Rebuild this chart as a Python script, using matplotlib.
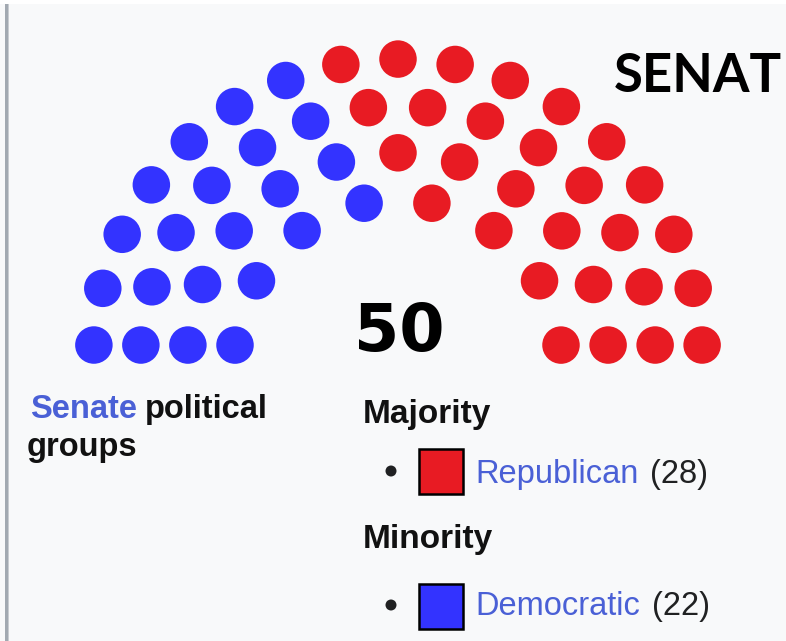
import math
import matplotlib
matplotlib.use("Agg")
import matplotlib.pyplot as plt
from matplotlib.patches import Circle, Rectangle

# ---------------- data ----------------
parties = ["Democratic", "Republican"]          # order in the hemicycle (left -> right)
seats = [22, 28]
party_colors = ["#3333ff", "#e81b23"]
legend_groups = ["Majority", "Minority"]
legend_parties = ["Republican", "Democratic"]
legend_seats = [28, 22]
legend_colors = ["#e81b23", "#3333ff"]
title_text = "SENAT"
caption_link = "Senate"
caption_rest = "political"
caption_line2 = "groups"

W, H, DPI = 786, 641, 100
BG = "#f8f9fa"
LINK = "#4a60d6"
TXT = "#202122"

# ---------------- hemicycle layout (parliament-diagram algorithm) ----------------
TOTALS = [3, 15, 33, 61, 95, 138, 189, 247, 313, 388, 469, 559, 657, 762, 876, 997]


def seat_positions(total):
    rows = next(i + 1 for i, t in enumerate(TOTALS) if t >= total)
    rad = 0.4 / rows
    pos = []
    for i in range(1, rows):
        J = int(float(total) / TOTALS[rows - 1] * math.pi /
                (2 * math.asin(2.0 / (3.0 * rows + 4.0 * i - 2.0))))
        R = (3.0 * rows + 4.0 * i - 2.0) / (4.0 * rows)
        if J == 1:
            pos.append((math.pi / 2, 0.0, R))
        else:
            for j in range(J):
                a = j * (math.pi - 2.0 * math.sin(rad / R)) / (J - 1.0) + math.sin(rad / R)
                pos.append((a, R * math.cos(a), R * math.sin(a)))
    J = total - len(pos)
    R = (7.0 * rows - 2.0) / (4.0 * rows)
    if J == 1:
        pos.append((math.pi / 2, 0.0, R))
    else:
        for j in range(J):
            a = j * (math.pi - 2.0 * math.sin(rad / R)) / (J - 1.0) + math.sin(rad / R)
            pos.append((a, R * math.cos(a), R * math.sin(a)))
    pos.sort(reverse=True)
    return pos, rad


fig = plt.figure(figsize=(W / DPI, H / DPI), dpi=DPI)
fig.patch.set_facecolor(BG)


def fx(x):
    return x / W


def fy(y):
    return 1 - y / H


# top white strip and left grey border
fig.patches.append(Rectangle((0, fy(4)), 1, 4 / H, transform=fig.transFigure,
                             facecolor="white", edgecolor="none", zorder=0))
fig.patches.append(Rectangle((fx(5), 0), 3 / W, fy(4), transform=fig.transFigure,
                             facecolor="#a2a9b1", edgecolor="none", zorder=0))
fig.patches.append(Rectangle((fx(8), 0), 1.2 / W, fy(4), transform=fig.transFigure,
                             facecolor="#c8ccd1", edgecolor="none", zorder=0))

# axes in diagram units
scale = 187.5           # px per unit
cx, cy = 398.0, 363.75  # pixel position of hemicycle centre
ax = fig.add_axes([0, 0, 1, 1])
ax.set_xlim(-cx / scale, (W - cx) / scale)
ax.set_ylim(-(H - cy) / scale, cy / scale)
ax.axis("off")
ax.patch.set_alpha(0)


def ux(px):
    return (px - cx) / scale


def uy(py):
    return (cy - py) / scale


positions, rad = seat_positions(sum(seats))
k = 0
for count, col in zip(seats, party_colors):
    for _ in range(count):
        _, x, y = positions[k]
        ax.add_patch(Circle((x, y), rad, facecolor=col, edgecolor="none"))
        k += 1

# ---------------- texts ----------------
fig.text(fx(698), fy(77), title_text, fontsize=38, fontweight="bold",
         family="Lato", ha="center", va="center", color="black")
fig.text(fx(399), fy(333), str(sum(seats)), fontsize=47, fontweight="bold",
         family="DejaVu Sans", ha="center", va="center", color="black")

SANS = "Liberation Sans"
FS = 23.5
fig.canvas.draw()
r = fig.canvas.get_renderer()

t1 = fig.text(fx(30), fy(418), caption_link, fontsize=FS, fontweight="bold",
              family=SANS, ha="left", va="baseline", color=LINK)
e = t1.get_window_extent(r)
fig.text((e.x1 + 8) / W, fy(418), caption_rest, fontsize=FS, fontweight="bold",
         family=SANS, ha="left", va="baseline", color="#111111")
fig.text(fx(27), fy(456), caption_line2, fontsize=FS, fontweight="bold",
         family=SANS, ha="left", va="baseline", color="#111111")

group_y = [423, 548]
item_y = [483, 615]
square_top = [449, 584]
bullet_y = [471, 605]
for g, gy, iy, st, by, name, n, col in zip(legend_groups, group_y, item_y, square_top,
                                           bullet_y, legend_parties, legend_seats,
                                           legend_colors):
    fig.text(fx(363), fy(gy), g, fontsize=FS + 0.5, fontweight="bold",
             family=SANS, ha="left", va="baseline", color="#111111")
    ax.add_patch(Circle((ux(391), uy(by)), 5.5 / scale, facecolor=TXT, edgecolor="none"))
    fig.patches.append(Rectangle((fx(418.5), fy(st + 45)), 44 / W, 45 / H,
                                 transform=fig.transFigure, facecolor=col,
                                 edgecolor="black", linewidth=1.8))
    tn = fig.text(fx(475), fy(iy), name, fontsize=FS, family=SANS,
                  ha="left", va="baseline", color=LINK)
    e = tn.get_window_extent(r)
    fig.text((e.x1 + 12) / W, fy(iy), "(%d)" % n, fontsize=FS, family=SANS,
             ha="left", va="baseline", color=TXT)

fig.savefig("out.png", dpi=DPI, facecolor=BG)
